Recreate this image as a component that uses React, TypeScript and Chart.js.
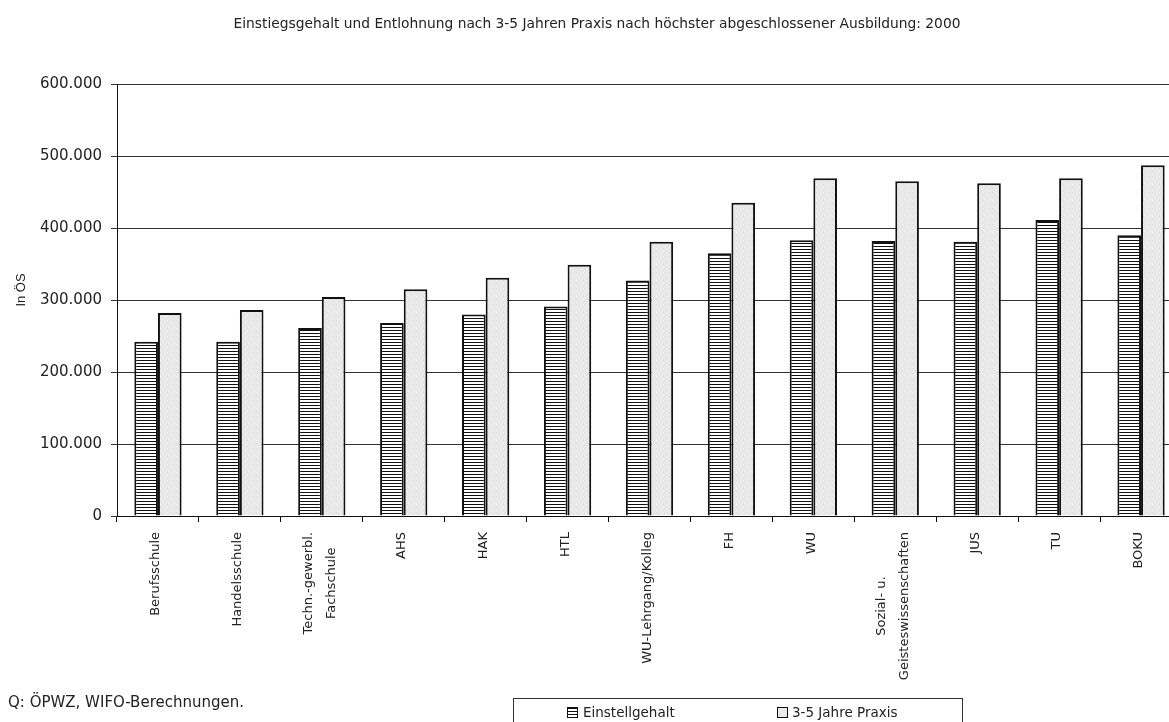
import React, { useEffect, useRef } from "react";
import { Chart, registerables } from "chart.js";

Chart.register(...registerables);

const categories: string[][] = [
  ["Berufsschule"],
  ["Handelsschule"],
  ["Techn.-gewerbl.", "Fachschule"],
  ["AHS"],
  ["HAK"],
  ["HTL"],
  ["WU-Lehrgang/Kolleg"],
  ["FH"],
  ["WU"],
  ["Sozial- u.", "Geisteswissenschaften"],
  ["JUS"],
  ["TU"],
  ["BOKU"],
];

const einstellgehalt = [242000, 242000, 261000, 268000, 280000, 291000, 327000, 365000, 383000, 382000, 381000, 411000, 390000];
const praxis = [282000, 286000, 304000, 315000, 331000, 349000, 381000, 435000, 469000, 465000, 462000, 469000, 487000];

const seriesNames = ["Einstellgehalt", "3-5 Jahre Praxis"];
const yTicks = [0, 100000, 200000, 300000, 400000, 500000, 600000];

const titleText = "Einstiegsgehalt und Entlohnung nach 3-5 Jahren Praxis nach höchster abgeschlossener Ausbildung: 2000";
const yTitle = "In ÖS";
const sourceText = "Q: ÖPWZ, WIFO-Berechnungen.";

const FONT = "'DejaVu Sans', sans-serif";

function fmt(v: number): string {
  const s = Math.round(v).toString();
  return s.replace(/\B(?=(\d{3})+(?!\d))/g, ".");
}

function stripePattern(ctx: CanvasRenderingContext2D): CanvasPattern | string {
  const c = document.createElement("canvas");
  c.width = 4;
  c.height = 3;
  const g = c.getContext("2d")!;
  g.fillStyle = "#ffffff";
  g.fillRect(0, 0, 4, 3);
  g.fillStyle = "#111111";
  g.fillRect(0, 0, 4, 1);
  return ctx.createPattern(c, "repeat") || "#888";
}

function speckPattern(ctx: CanvasRenderingContext2D): CanvasPattern | string {
  const c = document.createElement("canvas");
  c.width = 16;
  c.height = 16;
  const g = c.getContext("2d")!;
  g.fillStyle = "#e9e9e9";
  g.fillRect(0, 0, 16, 16);
  for (let y = 0; y < 16; y++) {
    for (let x = 0; x < 16; x++) {
      const h = (x * 7 + y * 13 + x * y) % 11;
      if (h === 0) {
        g.fillStyle = "#d6d6d6";
        g.fillRect(x, y, 1, 1);
      } else if (h === 5) {
        g.fillStyle = "#f6f6f6";
        g.fillRect(x, y, 1, 1);
      }
    }
  }
  return ctx.createPattern(c, "repeat") || "#e9e9e9";
}

// Draws the rotated, centre-aligned category labels under the x axis and the y-axis title.
const labelPlugin = {
  id: "xLabels",
  afterDraw(chart: any) {
    const ctx: CanvasRenderingContext2D = chart.ctx;
    const xs = chart.scales.x;
    const top = xs.top + 16;
    const spacing = 23;
    ctx.save();
    ctx.font = `13px ${FONT}`;
    ctx.fillStyle = "#222222";
    ctx.textAlign = "center";
    ctx.textBaseline = "middle";
    categories.forEach((lines, i) => {
      const cx = xs.getPixelForValue(i) - 2;
      const maxW = Math.max(...lines.map((l) => ctx.measureText(l).width));
      const cy = top + maxW / 2;
      const n = lines.length;
      lines.forEach((line, j) => {
        const x = cx + (j - (n - 1) / 2) * spacing;
        ctx.save();
        ctx.translate(x, cy);
        ctx.rotate(-Math.PI / 2);
        ctx.fillText(line, 0, 0);
        ctx.restore();
      });
    });
    // y-axis title
    ctx.font = "13px 'Liberation Sans', Arial, sans-serif";
    ctx.fillStyle = "#222222";
    ctx.save();
    ctx.translate(21, 290);
    ctx.rotate(-Math.PI / 2);
    ctx.fillText(yTitle, 0, 0);
    ctx.restore();
    ctx.restore();
  },
};

export default function App() {
  const ref = useRef<HTMLCanvasElement | null>(null);

  useEffect(() => {
    const canvas = ref.current;
    if (!canvas) return;
    const ctx = canvas.getContext("2d")!;
    const chart = new Chart(ctx, {
      type: "bar",
      data: {
        labels: categories.map((l) => l.join(" ")),
        datasets: [
          {
            label: seriesNames[0],
            data: einstellgehalt,
            backgroundColor: stripePattern(ctx) as any,
            borderColor: "#111111",
            borderWidth: 2,
            categoryPercentage: 0.577,
            barPercentage: 1,
          },
          {
            label: seriesNames[1],
            data: praxis,
            backgroundColor: speckPattern(ctx) as any,
            borderColor: "#111111",
            borderWidth: 2,
            categoryPercentage: 0.577,
            barPercentage: 1,
          },
        ],
      },
      options: {
        animation: false,
        responsive: false,
        maintainAspectRatio: false,
        layout: { padding: { top: 84, left: 0, right: 0, bottom: 0 } },
        plugins: {
          legend: { display: false },
          title: { display: false },
          tooltip: { enabled: false },
        },
        scales: {
          x: {
            offset: true,
            grid: {
              offset: true,
              drawOnChartArea: false,
              drawTicks: true,
              tickLength: 6,
              color: "#111111",
            },
            border: { display: true, color: "#111111", width: 1 },
            ticks: { display: false },
            afterFit: (scale: any) => {
              scale.height = 722 - 516;
            },
          },
          y: {
            min: 0,
            max: 600000,
            afterBuildTicks: (scale: any) => {
              scale.ticks = yTicks.map((v) => ({ value: v }));
            },
            grid: {
              color: "#333333",
              lineWidth: 1,
              drawTicks: true,
              tickLength: 6,
            },
            border: { display: true, color: "#111111", width: 1 },
            ticks: {
              padding: 9,
              color: "#222222",
              font: { family: FONT, size: 15 },
              callback: (v: any) => fmt(Number(v)),
            },
            afterFit: (scale: any) => {
              scale.width = 117;
            },
          },
        },
      },
      plugins: [labelPlugin],
    });
    return () => chart.destroy();
  }, []);

  return (
    <div
      style={{
        position: "fixed",
        left: 0,
        top: 0,
        width: 1169,
        height: 722,
        overflow: "hidden",
        background: "#ffffff",
        fontFamily: FONT,
        color: "#222222",
      }}
    >
      <canvas
        ref={ref}
        width={1182}
        height={722}
        style={{ position: "absolute", left: 0, top: 0, width: 1182, height: 722 }}
      />
      <div
        style={{
          position: "absolute",
          left: 597,
          top: 15,
          transform: "translateX(-50%)",
          whiteSpace: "nowrap",
          fontSize: 13.8,
        }}
      >
        {titleText}
      </div>
      <div
        style={{
          position: "absolute",
          left: 8,
          top: 693,
          whiteSpace: "nowrap",
          fontSize: 15,
        }}
      >
        {sourceText}
      </div>
      <div
        style={{
          position: "absolute",
          left: 513,
          top: 698,
          width: 450,
          height: 40,
          border: "1px solid #333",
          boxSizing: "border-box",
          fontSize: 13.5,
        }}
      >
        <div style={{ position: "absolute", left: 53, top: 5, display: "flex", alignItems: "center", whiteSpace: "nowrap" }}>
          <span
            style={{
              display: "inline-block",
              width: 11,
              height: 11,
              border: "1px solid #111",
              boxSizing: "border-box",
              marginRight: 5,
              background: "repeating-linear-gradient(to bottom, #111 0px, #111 1px, #fff 1px, #fff 3px)",
            }}
          />
          {seriesNames[0]}
        </div>
        <div style={{ position: "absolute", left: 263, top: 5, display: "flex", alignItems: "center", whiteSpace: "nowrap" }}>
          <span
            style={{
              display: "inline-block",
              width: 11,
              height: 11,
              border: "1px solid #111",
              boxSizing: "border-box",
              marginRight: 4,
              background: "#e9e9e9",
            }}
          />
          {seriesNames[1]}
        </div>
      </div>
    </div>
  );
}
